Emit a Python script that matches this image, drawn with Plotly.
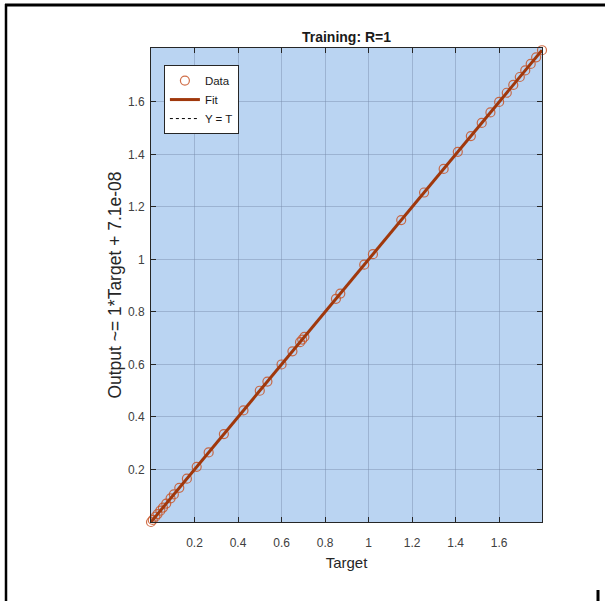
import plotly.graph_objects as go
import numpy as np

# Data
targets = [0.0, 0.008, 0.02, 0.03, 0.043, 0.055, 0.07, 0.09, 0.105, 0.13, 0.165,
           0.21, 0.265, 0.335, 0.425, 0.5, 0.535, 0.6, 0.65, 0.685, 0.695, 0.705,
           0.85, 0.87, 0.98, 1.02, 1.15, 1.255, 1.345, 1.41, 1.47, 1.52, 1.56,
           1.6, 1.635, 1.665, 1.695, 1.72, 1.745, 1.77, 1.797]
outputs = list(targets)
fit_slope = 1.0
fit_intercept = 7.1e-08
tick_vals = [0.2, 0.4, 0.6, 0.8, 1.0, 1.2, 1.4, 1.6]
tick_text = ["0.2", "0.4", "0.6", "0.8", "1", "1.2", "1.4", "1.6"]

tmin, tmax = min(targets), max(targets)
fit_x = [tmin, tmax]
fit_y = [fit_slope * v + fit_intercept for v in fit_x]

font = "Liberation Sans, Arial, sans-serif"

fig = go.Figure()
fig.add_trace(go.Scatter(x=fit_x, y=fit_x, mode="lines", name="Y = T",
                         line=dict(color="black", width=1, dash="dot"), legendrank=3))
fig.add_trace(go.Scatter(x=targets, y=outputs, mode="markers", name="Data", cliponaxis=False,
                         marker=dict(symbol="circle-open", size=9,
                                     color="rgba(200,85,40,0.85)", line=dict(width=1.2)),
                         legendrank=1))
fig.add_trace(go.Scatter(x=fit_x, y=fit_y, mode="lines", name="Fit",
                         line=dict(color="#A0380C", width=3), legendrank=2))

axis_common = dict(
    showgrid=True, gridcolor="rgba(120,140,170,0.45)", gridwidth=1,
    zeroline=False, showline=True, linecolor="#262626", linewidth=1,
    mirror="allticks", ticks="inside", ticklen=5, tickcolor="#262626",
    tickvals=tick_vals, ticktext=tick_text,
    tickfont=dict(family=font, size=12, color="#404040"),
)

fig.update_layout(
    width=605, height=601,
    margin=dict(l=151, r=63, t=48, b=79),
    paper_bgcolor="white", plot_bgcolor="#BAD4F2",
    title=dict(text="<b>Training: R=1</b>", x=(151 + 391 / 2) / 605, xanchor="center",
               y=1 - 37 / 601, yanchor="middle",
               font=dict(family=font, size=14, color="#1a1a1a")),
    xaxis=dict(range=[0, tmax], ticklabelstandoff=10,
               title=dict(text="Target", standoff=8,
                          font=dict(family=font, size=15, color="#262626")), **axis_common),
    yaxis=dict(range=[0, 1.8055], ticklabelstandoff=3,
               title=dict(text="Output ~= 1*Target + 7.1e-08", standoff=1,
                          font=dict(family=font, size=17.5, color="#262626")), **axis_common),
    legend=dict(x=0.033, y=0.964, xanchor="left", yanchor="top",
                bgcolor="white", bordercolor="#262626", borderwidth=1,
                font=dict(family=font, size=11.5, color="#1a1a1a"),
                tracegroupgap=0, itemwidth=30),
    showlegend=True,
)

# screenshot frame lines
W, H = 391.0, 474.0
def px(xp):
    return (xp - 151) / W
def py(yp):
    return (522 - yp) / H

fig.add_shape(type="line", xref="paper", yref="paper", x0=px(5), x1=px(606), y0=py(5), y1=py(5),
              line=dict(color="black", width=3))
fig.add_shape(type="line", xref="paper", yref="paper", x0=px(6), x1=px(6), y0=py(4), y1=py(602),
              line=dict(color="black", width=2.5))
fig.add_shape(type="line", xref="paper", yref="paper", x0=px(598), x1=px(598), y0=py(590), y1=py(602),
              line=dict(color="black", width=3))

fig.write_html("out.html")
